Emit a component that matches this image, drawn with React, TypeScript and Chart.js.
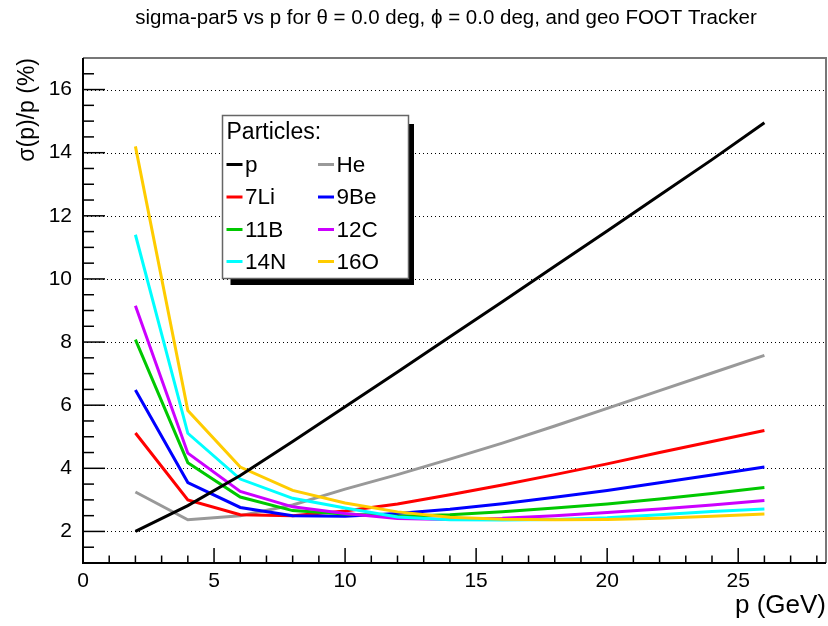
import React, { useEffect, useRef } from 'react';
import { Chart, registerables } from 'chart.js';

Chart.register(...registerables);

// ---- data ----
const momenta = [2, 4, 6, 8, 10, 12, 14, 16, 18, 20, 22, 24, 26];
const sigmaP = [2.0, 2.82, 3.77, 4.85, 5.95, 7.05, 8.17, 9.28, 10.4, 11.52, 12.65, 13.78, 14.95];
const sigmaHe = [3.25, 2.37, 2.5, 2.84, 3.34, 3.8, 4.29, 4.8, 5.34, 5.9, 6.46, 7.02, 7.58];
const sigmaLi7 = [5.12, 3.0, 2.53, 2.5, 2.65, 2.87, 3.16, 3.47, 3.8, 4.14, 4.5, 4.85, 5.2];
const sigmaBe9 = [6.48, 3.55, 2.76, 2.5, 2.48, 2.57, 2.7, 2.88, 3.08, 3.3, 3.54, 3.79, 4.04];
const sigmaB11 = [8.08, 4.18, 3.09, 2.66, 2.55, 2.48, 2.53, 2.62, 2.74, 2.87, 3.03, 3.2, 3.39];
const sigmaC12 = [9.15, 4.48, 3.27, 2.78, 2.57, 2.41, 2.38, 2.42, 2.5, 2.6, 2.71, 2.84, 2.98];
const sigmaN14 = [11.4, 5.11, 3.66, 3.05, 2.74, 2.46, 2.37, 2.36, 2.38, 2.43, 2.53, 2.63, 2.71];
const sigmaO16 = [14.2, 5.83, 4.04, 3.3, 2.9, 2.62, 2.45, 2.39, 2.37, 2.38, 2.42, 2.48, 2.55];

const particleLabels = ['p', 'He', '7Li', '9Be', '11B', '12C', '14N', '16O'];
const seriesValues = [sigmaP, sigmaHe, sigmaLi7, sigmaBe9, sigmaB11, sigmaC12, sigmaN14, sigmaO16];

const xTickValues = [0, 5, 10, 15, 20, 25];
const yTickValues = [2, 4, 6, 8, 10, 12, 14, 16];

const titleText = 'sigma-par5 vs p for \u03B8 = 0.0 deg, \u03D5 = 0.0 deg, and geo FOOT Tracker';
const xTitle = 'p (GeV)';
const yTitle = '\u03C3(p)/p (%)';
const legendHeader = 'Particles:';

// ---- styles ----
const seriesColors = ['#000000', '#999999', '#ff0000', '#0000ff', '#00c800', '#cc00ff', '#00ffff', '#ffcc00'];
const FONT = "'Liberation Sans', Arial, Helvetica, sans-serif";

const rootStylePlugin = {
  id: 'rootStyle',
  beforeDatasetsDraw(chart: any) {
    const { ctx, chartArea: a, scales } = chart;
    const y = scales.y;
    ctx.save();
    ctx.strokeStyle = '#000';
    ctx.lineWidth = 1;
    ctx.setLineDash([1, 3]);
    for (const v of yTickValues) {
      const py = Math.round(y.getPixelForValue(v)) + 0.5;
      ctx.beginPath();
      ctx.moveTo(a.left, py);
      ctx.lineTo(a.right, py);
      ctx.stroke();
    }
    ctx.restore();
  },
  afterDatasetsDraw(chart: any) {
    const { ctx, chartArea: a, scales } = chart;
    const x = scales.x;
    const y = scales.y;
    ctx.save();
    ctx.setLineDash([]);
    ctx.strokeStyle = '#000';
    ctx.lineWidth = 1.5;
    // y ticks (inside)
    for (let v = 1; v <= 17.0001; v += 0.5) {
      const py = y.getPixelForValue(v);
      const major = Math.abs(v % 2) < 1e-6;
      ctx.beginPath();
      ctx.moveTo(a.left, py);
      ctx.lineTo(a.left + (major ? 22 : 11), py);
      ctx.stroke();
    }
    // x ticks (inside)
    for (let v = 0; v <= 28.3; v += 1) {
      const px = x.getPixelForValue(v);
      const major = v % 5 === 0;
      ctx.beginPath();
      ctx.moveTo(px, a.bottom);
      ctx.lineTo(px, a.bottom - (major ? 15 : 7.5));
      ctx.stroke();
    }
    // frame
    ctx.strokeStyle = '#777';
    ctx.lineWidth = 2;
    ctx.beginPath();
    ctx.moveTo(a.left, a.top);
    ctx.lineTo(a.right, a.top);
    ctx.lineTo(a.right, a.bottom);
    ctx.stroke();
    ctx.strokeStyle = '#000';
    ctx.beginPath();
    ctx.moveTo(a.left, a.top);
    ctx.lineTo(a.left, a.bottom);
    ctx.lineTo(a.right, a.bottom);
    ctx.stroke();
    ctx.restore();
  },
  afterDraw(chart: any) {
    const { ctx } = chart;
    ctx.save();
    // title
    ctx.fillStyle = '#000';
    ctx.font = `20.5px ${FONT}`;
    ctx.textAlign = 'center';
    ctx.textBaseline = 'alphabetic';
    ctx.fillText(titleText, 446, 24);

    // legend box with shadow
    const bx = 222.5, by = 115.5, bw = 186, bh = 163;
    ctx.fillStyle = '#000';
    ctx.fillRect(bx + 8, by + 8.5, bw - 2.5, bh - 2);
    ctx.fillStyle = '#fff';
    ctx.fillRect(bx, by, bw, bh);
    ctx.strokeStyle = '#666';
    ctx.lineWidth = 1.5;
    ctx.strokeRect(bx, by, bw, bh);

    ctx.fillStyle = '#000';
    ctx.font = `23px ${FONT}`;
    ctx.textAlign = 'left';
    ctx.textBaseline = 'alphabetic';
    ctx.fillText(legendHeader, 226.5, 138.5);

    ctx.font = `22.5px ${FONT}`;
    const ds = chart.data.datasets;
    const colX = [226.5, 318];
    const rowBase = [171.5, 204, 236.5, 268.5];
    for (let i = 0; i < ds.length; i++) {
      const col = i % 2;
      const row = Math.floor(i / 2);
      const sx = colX[col];
      const base = rowBase[row];
      ctx.strokeStyle = ds[i].borderColor;
      ctx.lineWidth = 3;
      ctx.beginPath();
      ctx.moveTo(sx, base - 7);
      ctx.lineTo(sx + 16, base - 7);
      ctx.stroke();
      ctx.fillStyle = '#000';
      ctx.fillText(ds[i].label, sx + 18.5, base);
    }
    ctx.restore();
  },
};

export default function App() {
  const canvasRef = useRef<HTMLCanvasElement | null>(null);

  useEffect(() => {
    const canvas = canvasRef.current;
    if (!canvas) return;
    const datasets = particleLabels.map((label, i) => ({
      label,
      data: momenta.map((m, j) => ({ x: m, y: seriesValues[i][j] })),
      borderColor: seriesColors[i],
      backgroundColor: seriesColors[i],
      borderWidth: 3,
      pointRadius: 0,
      tension: 0,
      fill: false,
      order: i === 0 ? 0 : 9 - i,
    }));

    const chart = new Chart(canvas, {
      type: 'line',
      data: { datasets },
      options: {
        animation: false,
        responsive: false,
        maintainAspectRatio: false,
        devicePixelRatio: 1,
        layout: { padding: { left: 0, top: 58, right: 2, bottom: 0 } },
        plugins: {
          legend: { display: false },
          tooltip: { enabled: false },
          title: { display: false },
        },
        scales: {
          x: {
            type: 'linear',
            min: 0,
            max: 28.35,
            afterBuildTicks: (scale: any) => {
              scale.ticks = xTickValues.map((v) => ({ value: v }));
            },
            afterFit: (scale: any) => {
              scale.height = 63;
            },
            grid: { display: false, drawTicks: false },
            border: { display: false },
            ticks: {
              font: { family: FONT, size: 21 },
              color: '#000',
              padding: 6,
              maxRotation: 0,
              autoSkip: false,
            },
            title: {
              display: true,
              text: xTitle,
              align: 'end',
              color: '#000',
              font: { family: FONT, size: 26 },
              padding: { top: 0, bottom: 5 },
            },
          },
          y: {
            type: 'linear',
            min: 1,
            max: 17,
            afterBuildTicks: (scale: any) => {
              scale.ticks = yTickValues.map((v) => ({ value: v }));
            },
            afterFit: (scale: any) => {
              scale.width = 83;
            },
            grid: { display: false, drawTicks: false },
            border: { display: false },
            ticks: {
              font: { family: FONT, size: 21 },
              color: '#000',
              padding: 11,
              autoSkip: false,
            },
            title: {
              display: true,
              text: yTitle,
              align: 'end',
              color: '#000',
              font: { family: FONT, size: 23 },
              padding: { top: 14, bottom: 0 },
            },
          },
        },
      },
      plugins: [rootStylePlugin],
    });

    return () => {
      chart.destroy();
    };
  }, []);

  return (
    <div style={{ position: 'absolute', left: 0, top: 0, width: 828, height: 626, background: '#fff' }}>
      <canvas ref={canvasRef} width={828} height={626} style={{ display: 'block' }} />
    </div>
  );
}
